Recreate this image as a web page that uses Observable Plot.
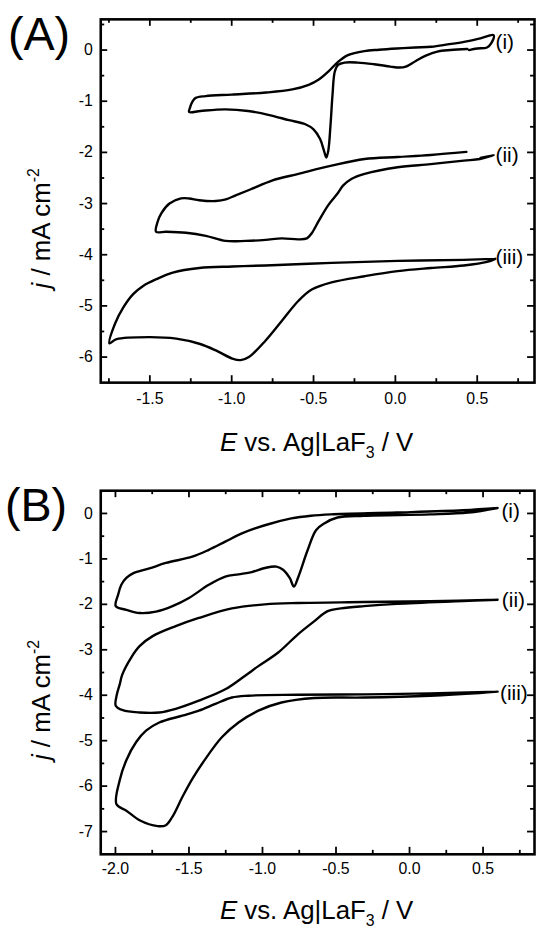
<!DOCTYPE html>
<html><head><meta charset="utf-8">
<script src="https://cdn.jsdelivr.net/npm/d3@7"></script>
<script src="https://cdn.jsdelivr.net/npm/@observablehq/plot@0.6"></script>
<style>
html,body{margin:0;padding:0;background:#fff;overflow:hidden;}
#wrap{position:relative;width:536px;height:932px;overflow:hidden;background:#fff;}
#wrap svg{position:absolute;left:0;}
</style></head><body><div id="wrap"></div>
<script>
// ---------- Panel A data (E / V, j / mA cm^-2) ----------
const A1_E = [0.45, 0.50, 0.56, 0.585, 0.60, 0.52, 0.42, 0.32, 0.22, 0.12, 0.01, -0.10, -0.19, -0.29, -0.35, -0.41, -0.47, -0.53, -0.63, -0.79, -1.00, -1.16, -1.22, -1.24, -1.255, -1.26, -1.19, -1.04, -0.90, -0.77, -0.65, -0.55, -0.50, -0.46, -0.436, -0.422, -0.41, -0.396, -0.384, -0.37, -0.35, -0.31, -0.23, -0.13, -0.03, 0.024, 0.064, 0.125, 0.186, 0.256, 0.337, 0.44];
const A1_j = [0.00, 0.03, 0.05, 0.13, 0.29, 0.23, 0.16, 0.11, 0.065, 0.05, 0.03, 0.006, -0.02, -0.10, -0.23, -0.42, -0.58, -0.68, -0.77, -0.83, -0.87, -0.90, -0.935, -1.01, -1.13, -1.21, -1.19, -1.16, -1.19, -1.27, -1.37, -1.45, -1.55, -1.74, -1.97, -2.10, -1.97, -1.45, -0.87, -0.42, -0.29, -0.245, -0.245, -0.277, -0.323, -0.342, -0.323, -0.213, -0.11, -0.03, 0.00, 0.02];

const A2_E = [0.434, 0.216, 0.014, -0.188, -0.39, -0.592, -0.754, -0.875, -0.976, -1.036, -1.097, -1.198, -1.26, -1.31, -1.38, -1.43, -1.452, -1.462, -1.40, -1.279, -1.158, -1.036, -0.915, -0.794, -0.693, -0.592, -0.541, -0.511, -0.47, -0.41, -0.35, -0.32, -0.269, -0.188, 0.014, 0.216, 0.418, 0.516, 0.602, 0.52];
const A2_j = [-1.99, -2.05, -2.09, -2.13, -2.26, -2.42, -2.55, -2.71, -2.84, -2.92, -2.95, -2.935, -2.90, -2.90, -3.00, -3.19, -3.35, -3.55, -3.55, -3.57, -3.63, -3.73, -3.73, -3.71, -3.68, -3.70, -3.68, -3.58, -3.35, -3.03, -2.79, -2.65, -2.52, -2.42, -2.29, -2.23, -2.16, -2.13, -2.05, -2.11];

const A3_E = [0.61, 0.418, 0.014, -0.39, -0.794, -0.996, -1.198, -1.36, -1.462, -1.541, -1.602, -1.662, -1.713, -1.747, -1.703, -1.501, -1.339, -1.198, -1.097, -0.996, -0.945, -0.895, -0.794, -0.693, -0.592, -0.511, -0.39, -0.188, 0.014, 0.216, 0.418, 0.56, 0.61];
const A3_j = [-4.08, -4.10, -4.12, -4.16, -4.21, -4.23, -4.26, -4.35, -4.48, -4.61, -4.77, -5.03, -5.35, -5.73, -5.65, -5.61, -5.64, -5.74, -5.87, -6.03, -6.06, -6.00, -5.68, -5.29, -4.90, -4.68, -4.54, -4.42, -4.32, -4.26, -4.21, -4.14, -4.08];

// ---------- Panel B data ----------
const B1_E = [0.599, 0.364, -0.086, -0.535, -0.671, -0.804, -0.984, -1.14, -1.253, -1.365, -1.477, -1.657, -1.769, -1.881, -1.926, -1.96, -1.982, -1.998, -1.926, -1.836, -1.724, -1.612, -1.5, -1.365, -1.253, -1.163, -1.073, -0.984, -0.905, -0.86, -0.815, -0.786, -0.759, -0.692, -0.636, -0.58, -0.49, -0.31, 0.139, 0.40, 0.599];
const B1_j = [0.12, 0.07, 0.02, -0.02, -0.05, -0.11, -0.26, -0.44, -0.62, -0.80, -0.95, -1.09, -1.21, -1.32, -1.42, -1.57, -1.79, -2.04, -2.12, -2.19, -2.16, -2.04, -1.86, -1.57, -1.39, -1.34, -1.29, -1.20, -1.17, -1.24, -1.42, -1.61, -1.42, -0.80, -0.37, -0.22, -0.09, -0.05, -0.02, 0.02, 0.12];

const B2_E = [0.599, 0.139, -0.31, -0.759, -0.984, -1.208, -1.433, -1.59, -1.747, -1.836, -1.893, -1.953, -1.971, -1.99, -1.998, -1.95, -1.836, -1.702, -1.59, -1.433, -1.253, -1.118, -1.028, -0.893, -0.759, -0.647, -0.557, -0.467, -0.31, -0.086, 0.364, 0.599];
const B2_j = [-1.90, -1.93, -1.95, -1.97, -2.00, -2.09, -2.30, -2.48, -2.70, -2.92, -3.17, -3.54, -3.76, -3.98, -4.23, -4.33, -4.38, -4.38, -4.30, -4.12, -3.87, -3.57, -3.36, -3.06, -2.66, -2.37, -2.15, -2.09, -2.04, -1.99, -1.93, -1.90];

const B3_E = [0.599, 0.139, -0.31, -0.759, -1.096, -1.208, -1.32, -1.433, -1.545, -1.702, -1.792, -1.859, -1.926, -1.971, -1.993, -1.926, -1.836, -1.713, -1.657, -1.612, -1.545, -1.477, -1.388, -1.275, -1.163, -1.028, -0.871, -0.647, -0.31, 0.139, 0.476, 0.599];
const B3_j = [-3.92, -3.96, -3.98, -3.99, -4.01, -4.05, -4.19, -4.34, -4.45, -4.60, -4.78, -5.03, -5.43, -5.87, -6.40, -6.54, -6.75, -6.88, -6.86, -6.67, -6.24, -5.84, -5.40, -4.92, -4.60, -4.34, -4.16, -4.06, -4.05, -4.01, -3.95, -3.92];

// ---------- curve labels ----------
const curveLabels = ["(i)", "(ii)", "(iii)"];
const A_labelE = [0.612, 0.612, 0.612];
const A_labelJ = [0.16, -2.05, -4.06];
const B_labelE = [0.625, 0.628, 0.615];
const B_labelJ = [0.05, -1.92, -3.96];

// ---------- axes ----------
const A_xTicks = [-1.5, -1.0, -0.5, 0.0, 0.5];
const A_xMinor = [-1.75, -1.25, -0.75, -0.25, 0.25, 0.75];
const A_yTicks = [0, -1, -2, -3, -4, -5, -6];
const A_yMinor = [0.5, -0.5, -1.5, -2.5, -3.5, -4.5, -5.5];
const B_xTicks = [-2.0, -1.5, -1.0, -0.5, 0.0, 0.5];
const B_xMinor = [-1.75, -1.25, -0.75, -0.25, 0.25, 0.75];
const B_yTicks = [0, -1, -2, -3, -4, -5, -6, -7];
const B_yMinor = [-0.5, -1.5, -2.5, -3.5, -4.5, -5.5, -6.5];

const FONT = "'Liberation Sans', Arial, Helvetica, sans-serif";

function makePanel(p) {
  const W = 540, H = 466, mL = 101, mR = 2;
  const iW = W - mL - mR, iH = H - p.mT - p.mB;
  const rows = [];
  p.curves.forEach((c, k) => c[0].forEach((e, i) => rows.push({E: e, j: c[1][i], k})));
  const lab = curveLabels.map((t, i) => ({t, x: p.labE[i], y: p.labJ[i]}));
  const tk = {stroke: "#000", strokeWidth: 1.8};
  const svg = Plot.plot({
    width: W, height: H, marginLeft: mL, marginRight: mR, marginTop: p.mT, marginBottom: p.mB,
    x: {domain: p.xDomain}, y: {domain: p.yDomain},
    style: {fontFamily: FONT, color: "#000", background: "transparent", overflow: "visible"},
    marks: [
      Plot.line(rows, {x: "E", y: "j", z: "k", stroke: "#000", strokeWidth: 2.4, curve: "catmull-rom"}),
      Plot.tickX(p.xT, {x: d => d, insetTop: iH - 7, ...tk}),
      Plot.tickX(p.xT, {x: d => d, insetBottom: iH - 7, ...tk}),
      Plot.tickX(p.xM, {x: d => d, insetTop: iH - 4, ...tk}),
      Plot.tickX(p.xM, {x: d => d, insetBottom: iH - 4, ...tk}),
      Plot.tickY(p.yT, {y: d => d, insetRight: iW - 7, ...tk}),
      Plot.tickY(p.yT, {y: d => d, insetLeft: iW - 7, ...tk}),
      Plot.tickY(p.yM, {y: d => d, insetRight: iW - 4, ...tk}),
      Plot.tickY(p.yM, {y: d => d, insetLeft: iW - 4, ...tk}),
      Plot.axisX({ticks: p.xT, tickSize: 0, tickPadding: p.padX, fontSize: 16, tickFormat: d => d.toFixed(1), label: null}),
      Plot.axisY({ticks: p.yT, tickSize: 0, tickPadding: 8, fontSize: 16, tickFormat: d => String(d), label: null}),
      Plot.text(lab, {x: "x", y: "y", text: "t", textAnchor: "start", fontSize: 21, fill: "#000"}),
      Plot.frame({stroke: "#000", strokeWidth: 2.6})
    ]
  });
  const s = d3.select(svg);
  s.append("text").attr("x", p.tag[1]).attr("y", p.tag[2]).attr("font-size", 47)
    .attr("text-anchor", "start")
    .attr("font-family", FONT).attr("fill", "#000").text(p.tag[0]);
  const xt = s.append("text").attr("x", 319).attr("y", p.xTitleY).attr("text-anchor", "middle")
    .attr("font-size", 26).attr("font-family", FONT).attr("fill", "#000");
  xt.append("tspan").attr("font-style", "italic").text("E");
  xt.append("tspan").text(" vs. Ag|LaF");
  xt.append("tspan").attr("font-size", 16).attr("dy", 7).text("3");
  xt.append("tspan").attr("dy", -7).text(" / V");
  const yt = s.append("text").attr("transform", `translate(50,${p.yTitleC}) rotate(-90)`)
    .attr("text-anchor", "middle").attr("font-size", 26).attr("font-family", FONT).attr("fill", "#000");
  yt.append("tspan").attr("font-style", "italic").text("j");
  yt.append("tspan").text(" / mA cm");
  yt.append("tspan").attr("font-size", 16).attr("dy", -11).text("-2");
  svg.style.top = p.top + "px";
  document.getElementById("wrap").appendChild(svg);
}

makePanel({
  top: 0, mT: 19, mB: 81, xDomain: [-1.8, 0.85], yDomain: [-6.5, 0.6],
  curves: [[A1_E, A1_j], [A2_E, A2_j], [A3_E, A3_j]],
  labE: A_labelE, labJ: A_labelJ,
  xT: A_xTicks, xM: A_xMinor, yT: A_yTicks, yM: A_yMinor, padX: 10,
  tag: ["(A)", 8, 50], xTitleY: 454, yTitleC: 230
});
makePanel({
  top: 466, mT: 24.4, mB: 75.3, xDomain: [-2.1, 0.85], yDomain: [-7.5, 0.5],
  curves: [[B1_E, B1_j], [B2_E, B2_j], [B3_E, B3_j]],
  labE: B_labelE, labJ: B_labelJ,
  xT: B_xTicks, xM: B_xMinor, yT: B_yTicks, yM: B_yMinor, padX: 8.5,
  tag: ["(B)", 5, 55.7], xTitleY: 456.3, yTitleC: 235.7
});
</script></body></html>
